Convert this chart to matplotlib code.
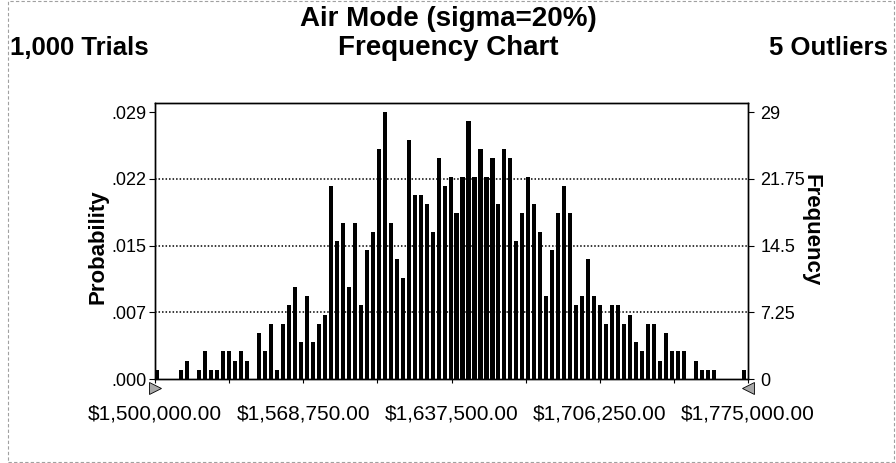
import matplotlib
matplotlib.use("Agg")
import matplotlib.pyplot as plt
import numpy as np

# frequency per bin (995 trials shown + 5 outliers)
freq = [1, 0, 0, 0, 1, 2, 0, 1, 3, 1, 1, 3, 3, 2, 3, 2, 0,
        5, 3, 6, 1, 6, 8, 10, 4, 9, 4, 6, 7,
        21, 15, 17, 10, 17, 8, 14, 16, 25, 29, 17, 13,
        11, 26, 20, 20, 19, 16, 24, 21, 22, 18, 22, 28,
        22, 25, 22, 24, 19, 25, 24, 15, 18, 22, 19, 16,
        9, 14, 18, 21, 18, 8, 9, 13, 9, 8, 6, 8,
        8, 6, 7, 4, 3, 6, 6, 2, 5, 3, 3, 3,
        0, 2, 1, 1, 1, 0, 0, 0, 0, 1]
x_min, x_max = 1500000, 1775000
x_ticks = [1500000, 1568750, 1637500, 1706250, 1775000]
x_labels = ["$1,500,000.00", "$1,568,750.00", "$1,637,500.00", "$1,706,250.00", "$1,775,000.00"]
freq_ticks = [0, 7.25, 14.5, 21.75, 29]
freq_labels = ["0", "7.25", "14.5", "21.75", "29"]
prob_labels = [".000", ".007", ".015", ".022", ".029"]

plt.rcParams['font.family'] = ['Liberation Sans', 'DejaVu Sans']

W, H = 896, 463
fig = plt.figure(figsize=(W / 100, H / 100), dpi=100)

# plot frame in pixel coords of the reference
left, right, top, bottom = 155, 748, 103, 379
ax = fig.add_axes([left / W, 1 - bottom / H, (right - left) / W, (bottom - top) / H])

bw = (x_max - x_min) / len(freq)
edges = x_min + np.arange(len(freq)) * bw
ax.bar(edges, freq, width=bw * 0.68, align='edge', color='black', zorder=3)

ax.set_xlim(x_min, x_max)
ax.set_ylim(0, 30)
for v in freq_ticks[1:-1]:
    ax.axhline(v, color='black', linewidth=1.1, linestyle=(0, (1, 1.3)), zorder=1)

ax.set_xticks(x_ticks, labels=x_labels, fontsize=15)
ax.set_xticks([(a + b) / 2 for a, b in zip(x_ticks[:-1], x_ticks[1:])], minor=True)
ax.tick_params(axis='x', which='both', length=3, pad=15, width=0.8)
ax.set_yticks(freq_ticks, labels=prob_labels, fontsize=13)
ax.tick_params(axis='y', length=4, width=0.8, pad=2)

ax2 = ax.twinx()
ax2.set_ylim(ax.get_ylim())
ax2.set_yticks(freq_ticks, labels=freq_labels, fontsize=13)
ax2.tick_params(axis='y', length=4, width=0.8, pad=5)

for a in (ax, ax2):
    for s in a.spines.values():
        s.set_linewidth(1.0)

# certainty range grabbers under the axis ends
ax.plot([x_min], [-1.0], marker='>', markersize=8, color='#a8a8a8',
        markeredgecolor='black', markeredgewidth=0.6, clip_on=False, zorder=5)
ax.plot([x_max], [-1.0], marker='<', markersize=8, color='#a8a8a8',
        markeredgecolor='black', markeredgewidth=0.6, clip_on=False, zorder=5)

fig.text(98 / W, 1 - 247 / H, "Probability", rotation=90, ha='center', va='center',
         fontsize=16, fontweight='bold')
fig.text(811 / W, 1 - 230 / H, "Frequency", rotation=270, ha='center', va='center',
         fontsize=16, fontweight='bold')

fig.text(448 / W, 1 - 19 / H, "Air Mode (sigma=20%)", ha='center', va='center',
         fontsize=20, fontweight='bold')
fig.text(10 / W, 1 - 48 / H, "1,000 Trials", ha='left', va='center',
         fontsize=18.5, fontweight='bold')
fig.text(448 / W, 1 - 48 / H, "Frequency Chart", ha='center', va='center',
         fontsize=20, fontweight='bold')
fig.text(888 / W, 1 - 48 / H, "5 Outliers", ha='right', va='center',
         fontsize=18.5, fontweight='bold')

# thin dashed outer frame
fig.patches.append(plt.Rectangle((0.009, 0.002), 0.989, 0.995, transform=fig.transFigure,
                                 fill=False, edgecolor='#a0a0a0', linewidth=0.8,
                                 linestyle=(0, (3, 2))))

fig.savefig("out.png", dpi=100)
